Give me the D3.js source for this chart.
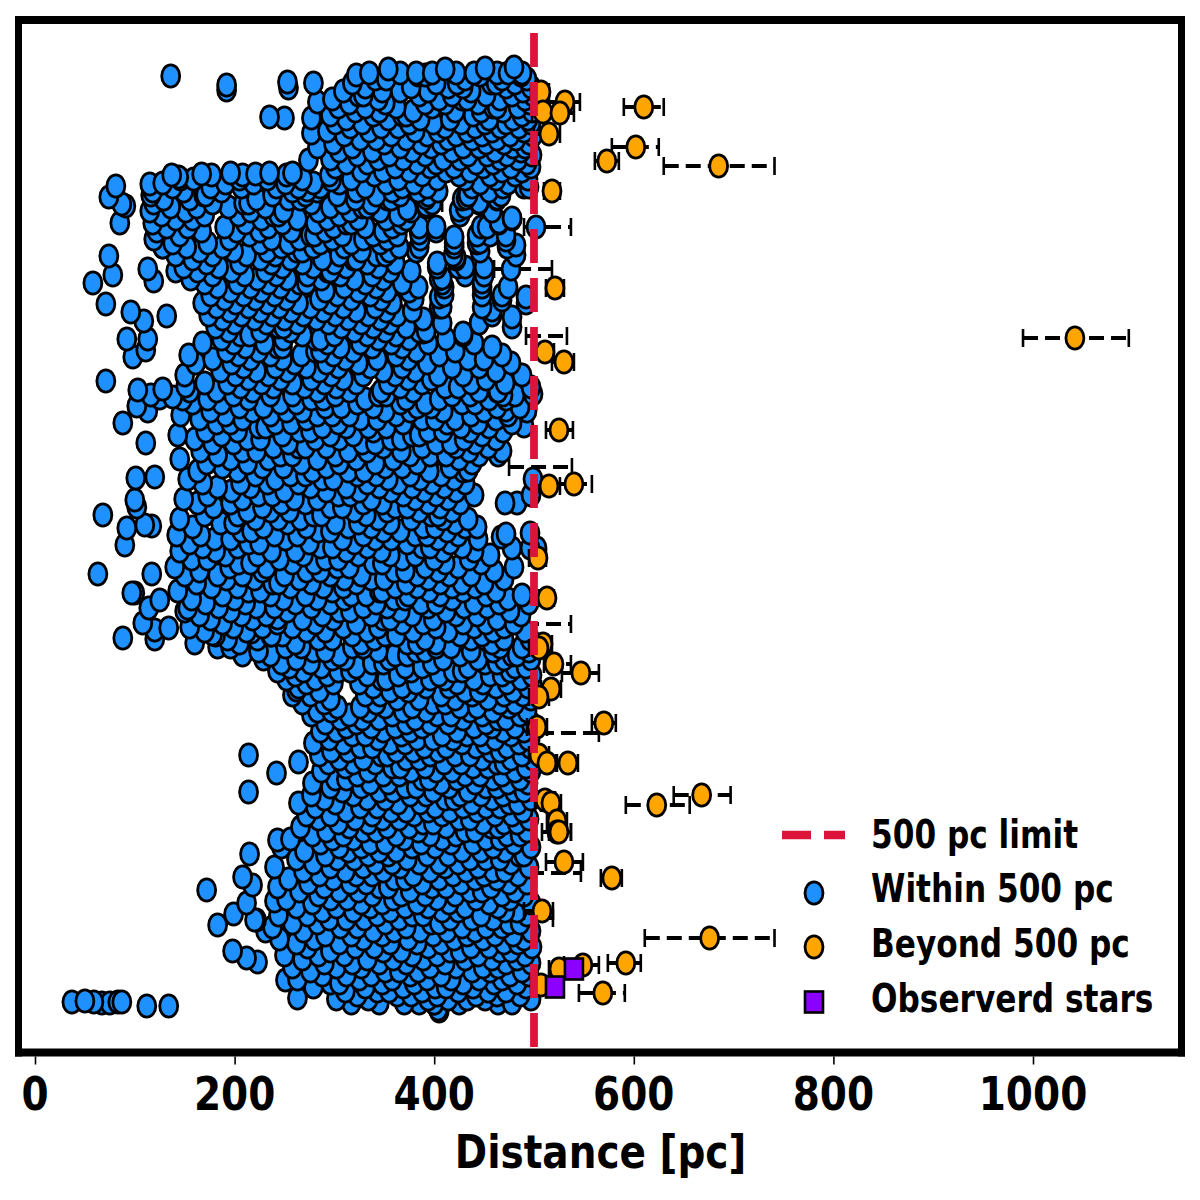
<!DOCTYPE html>
<html>
<head>
<meta charset="utf-8">
<script src="https://cdn.jsdelivr.net/npm/d3@7"></script>
<style>
  html, body { margin: 0; padding: 0; background: #fff; }
  text { font-family: "DejaVu Sans", sans-serif; font-weight: bold; fill: #000; }
</style>
</head>
<body>
<svg id="chart" width="1200" height="1200"></svg>
<script>
// stars inside the limit, body of the cloud: [rank, distances in pc]
const withinRows = [
  [928, [322, 384, 391, 446, 487]],
  [924, [341, 352, 431, 468, 493]],
  [920, [318, 402, 423, 457, 462, 481]],
  [916, [331, 377, 414, 429, 472, 497]],
  [912, [309, 348, 366, 394, 437, 489]],
  [908, [324, 329, 385, 418, 452, 478, 499]],
  [904, [298, 344, 405, 428, 433, 466, 491]],
  [900, [315, 351, 391, 411, 444, 496]],
  [896, [304, 331, 362, 398, 459, 463, 484]],
  [892, [321, 345, 379, 421, 447, 469, 498]],
  [888, [296, 339, 368, 372, 439, 488]],
  [884, [312, 354, 386, 416, 455, 479, 494]],
  [880, [301, 328, 375, 399, 427, 451, 472, 497]],
  [876, [316, 347, 364, 411, 441, 466, 485]],
  [872, [293, 335, 381, 404, 433, 458, 490]],
  [868, [310, 357, 393, 422, 448, 476, 499]],
  [864, [326, 342, 372, 414, 438, 463, 482]],
  [860, [299, 350, 387, 407, 452, 470, 495]],
  [856, [318, 366, 397, 429, 445, 479, 491]],
  [852, [305, 338, 378, 418, 461, 487]],
  [848, [323, 355, 391, 434, 453, 473, 498]],
  [844, [296, 344, 369, 409, 426, 466, 484]],
  [840, [312, 333, 383, 402, 442, 459, 493]],
  [836, [301, 361, 396, 420, 449, 477, 497]],
  [832, [327, 349, 375, 412, 436, 468, 488]],
  [828, [295, 340, 388, 425, 456, 481]],
  [824, [146, 159, 205, 233, 268, 317, 364, 403, 431, 462, 494]],
  [820, [128, 191, 219, 251, 279, 305, 352, 380, 446, 474]],
  [816, [138, 176, 207, 242, 264, 286, 331, 368, 393, 438, 469, 490]],
  [812, [118, 149, 187, 258, 283, 322, 358, 384, 404, 455]],
  [808, [116, 169, 171, 238, 271, 303, 342, 366, 394, 434, 467]],
  [804, [129, 155, 222, 254, 266, 321, 353, 357, 428, 463]],
  [800, [119, 178, 209, 214, 277, 309, 337, 398, 445]],
  [796, [136, 162, 194, 231, 296, 328, 333, 392, 431]],
  [792, [115, 151, 216, 249, 284, 316, 346, 377, 458]],
  [788, [127, 170, 204, 239, 244, 305, 364, 426]],
  [784, [141, 158, 227, 263, 293, 324, 352, 372, 478]],
  [780, [118, 211, 248, 281, 312, 317, 367, 465]],
  [776, [132, 153, 190, 234, 299, 331, 358, 385, 447]],
  [772, [122, 167, 202, 225, 257, 291, 349, 402]],
  [768, [145, 215, 276, 280, 308, 339, 363, 456, 472]],
  [764, [119, 195, 237, 265, 298, 329, 353, 386]],
  [760, [138, 173, 226, 254, 286, 317, 346, 420, 443]],
  [756, [128, 152, 188, 247, 279, 310, 365, 473]],
  [752, [165, 199, 233, 262, 268, 327, 355, 382, 446]],
  [748, [141, 178, 212, 241, 305, 342, 351, 419, 482]],
  [744, [158, 226, 256, 288, 319, 322, 422]],
  [740, [172, 205, 237, 268, 300, 333, 361]],
  [736, [149, 184, 248, 279, 312, 344, 403, 424]],
  [732, [163, 197, 231, 293, 296, 356, 377]],
  [728, [178, 210, 242, 273, 306, 338, 431, 450]],
  [724, [156, 223, 253, 287, 320, 349, 405]],
  [720, [170, 203, 234, 265, 272, 331, 368, 408]],
  [716, [183, 216, 246, 310, 342, 384, 448]],
  [712, [196, 227, 258, 291, 324, 353, 375]],
  [708, [176, 209, 240, 303, 336, 410, 468]],
  [704, [190, 221, 252, 285, 317, 347, 380]],
  [700, [168, 201, 233, 264, 296, 358, 492]],
  [696, [182, 214, 245, 276, 309, 341, 405, 448]],
  [692, [195, 226, 257, 289, 322, 352, 378]],
  [688, [174, 207, 238, 269, 301, 334, 363, 458]],
  [684, [188, 220, 250, 282, 314, 346, 389]],
  [680, [200, 232, 263, 294, 327, 356, 408, 445]],
  [676, [181, 244, 249, 307, 339, 372, 478]],
  [672, [194, 226, 256, 320, 351, 385, 392]],
  [668, [206, 215, 268, 300, 333, 362, 429]],
  [664, [187, 249, 281, 286, 344, 375, 412]],
  [660, [168, 199, 230, 293, 326, 357, 394, 440]],
  [656, [211, 243, 248, 306, 338, 368, 458]],
  [652, [192, 224, 281, 286, 319, 382, 421]],
  [648, [154, 204, 236, 267, 299, 362, 405, 468]],
  [644, [178, 216, 248, 311, 343, 374, 434, 450]],
  [640, [161, 197, 260, 292, 324, 393, 477]],
  [636, [209, 241, 272, 304, 336, 368, 418, 445]],
  [632, [186, 222, 253, 285, 349, 381, 462]],
  [628, [150, 201, 234, 297, 329, 361, 404, 429, 488]],
  [624, [214, 246, 277, 309, 374, 397, 452]],
  [620, [170, 193, 227, 258, 290, 322, 354, 388, 437, 471]],
  [616, [206, 239, 270, 302, 366, 411, 424, 497]],
  [612, [155, 182, 218, 283, 315, 347, 379, 445, 463]],
  [608, [199, 236, 258, 301, 344, 352, 418, 436, 481]],
  [604, [148, 173, 214, 277, 289, 331, 372, 405, 455, 472]],
  [600, [158, 187, 246, 262, 323, 366, 391, 428, 441]],
  [596, [205, 229, 291, 307, 339, 383, 397, 463, 486]],
  [592, [176, 218, 252, 268, 351, 376, 409, 450, 493]],
  [588, [146, 191, 236, 283, 298, 315, 362, 437, 474]],
  [584, [165, 208, 272, 326, 343, 388, 401, 421, 462]],
  [580, [182, 196, 241, 257, 304, 369, 413, 444, 478]],
  [576, [224, 231, 288, 312, 334, 352, 427, 455]],
  [572, [171, 203, 265, 276, 339, 394, 409, 436, 469]],
  [568, [143, 187, 248, 296, 319, 378, 385, 448]],
  [564, [160, 213, 226, 281, 305, 357, 367, 430, 462]],
  [560, [178, 199, 254, 328, 341, 402, 417, 441]],
  [556, [239, 264, 271, 292, 349, 388, 422, 454]],
  [552, [166, 208, 222, 314, 333, 367, 435, 468]],
  [548, [183, 246, 258, 301, 376, 396, 412, 445]],
  [544, [145, 196, 234, 283, 322, 359, 425]],
  [540, [172, 213, 267, 305, 341, 383, 438]],
  [536, [188, 228, 249, 292, 351, 368, 416]],
  [532, [163, 203, 278, 314, 330, 395, 429]],
  [528, [221, 256, 271, 323, 342, 376, 407]],
  [524, [153, 241, 288, 299, 354, 386, 420]],
  [520, [168, 206, 233, 264, 333, 364, 398, 431]],
  [516, [183, 216, 276, 312, 345, 378, 410]],
  [512, [197, 250, 292, 325, 357, 390, 422]],
  [508, [173, 224, 238, 304, 316, 369, 402, 440]],
  [504, [149, 208, 260, 283, 337, 381, 414]],
  [500, [163, 196, 247, 271, 329, 348, 394, 426]],
  [496, [179, 228, 296, 308, 361, 373, 406]],
  [492, [213, 236, 255, 320, 353, 385, 418]],
  [488, [170, 203, 279, 287, 332, 397, 404]],
  [484, [145, 221, 244, 266, 344, 377, 409, 434]],
  [480, [186, 199, 253, 301, 324, 356, 421]],
  [476, [158, 229, 272, 314, 337, 389, 401, 431]],
  [472, [207, 217, 284, 296, 349, 366, 413]],
  [468, [142, 166, 240, 263, 329, 381, 393, 424]],
  [464, [180, 196, 251, 308, 341, 357, 404, 444]],
  [460, [155, 214, 225, 275, 320, 373, 416]],
  [456, [168, 203, 286, 298, 333, 388, 396, 428]],
  [452, [145, 181, 237, 261, 312, 347, 409, 440]],
  [448, [191, 223, 269, 324, 356, 381, 456]],
  [444, [157, 173, 245, 291, 304, 368, 400, 435]],
  [440, [204, 216, 258, 280, 339, 348, 411, 447]],
  [436, [140, 195, 232, 303, 315, 391, 424, 480]],
  [432, [165, 228, 272, 286, 360, 371, 404, 460]],
  [428, [150, 183, 208, 250, 296, 327, 383, 415, 437]],
  [424, [192, 220, 265, 310, 337, 350, 394, 470]],
  [420, [162, 238, 244, 277, 322, 372, 406, 428, 450]],
  [416, [177, 203, 256, 289, 309, 361, 383, 418, 441]],
  [412, [143, 214, 226, 298, 345, 348, 395, 429, 462]],
  [408, [188, 236, 271, 317, 332, 374, 406, 452, 488]],
  [404, [157, 200, 249, 283, 310, 360, 371, 418, 474]],
  [400, [171, 211, 261, 296, 342, 387, 402, 440, 465, 495]],
  [396, [184, 222, 240, 277, 329, 353, 394, 430, 453]],
  [392, [150, 196, 253, 305, 316, 366, 412, 476]],
  [388, [165, 207, 232, 288, 337, 378, 422, 443, 487]],
  [384, [176, 218, 268, 299, 349, 356, 399, 463]],
  [380, [188, 243, 281, 322, 368, 389, 429, 452, 480]],
  [376, [155, 199, 228, 258, 309, 344, 402, 440, 470]],
  [372, [170, 212, 272, 291, 333, 379, 414, 459, 491]],
  [368, [181, 236, 248, 318, 351, 362, 426, 448]],
  [364, [193, 223, 284, 298, 340, 391, 437, 470, 496]],
  [360, [160, 205, 261, 327, 373, 383, 402, 458]],
  [356, [183, 196, 251, 267, 318, 329, 402, 417, 466, 488]],
  [352, [224, 279, 291, 344, 382, 391, 437, 459, 495]],
  [348, [208, 236, 305, 361, 373, 426, 478, 483]],
  [344, [229, 262, 298, 311, 355, 409, 444, 470, 497]],
  [340, [247, 276, 338, 349, 398, 451, 463]],
  [336, [255, 287, 322, 371, 388, 434, 481, 492]],
  [332, [243, 269, 304, 316, 377, 419, 428, 476]],
  [328, [261, 293, 333, 364, 405, 456, 468, 498]],
  [324, [252, 281, 347, 352, 396, 411, 440, 487]],
  [320, [272, 299, 325, 382, 423, 449, 473]],
  [316, [264, 339, 368, 392, 415, 462, 494]],
  [312, [285, 356, 374, 431, 445, 479]],
  [308, [258, 276, 331, 346, 407, 438, 470, 489]],
  [304, [296, 363, 385, 421, 454, 497]],
  [300, [268, 290, 342, 399, 411, 466, 481]],
  [296, [303, 326, 351, 378, 426, 443, 475]],
  [292, [283, 297, 334, 369, 392, 436, 459, 493]],
  [288, [277, 315, 358, 403, 417, 448, 486]],
  [284, [306, 328, 345, 381, 429, 464, 472]],
  [280, [291, 322, 372, 396, 414, 452, 497]],
  [276, [312, 337, 361, 388, 440, 458, 481]],
  [272, [286, 302, 349, 376, 423, 469, 490]],
  [268, [318, 331, 367, 408, 433, 446, 477]],
  [264, [295, 344, 383, 399, 419, 461, 494]],
  [260, [279, 309, 356, 371, 428, 451, 485]],
  [256, [326, 338, 390, 412, 442, 473, 496]],
  [252, [297, 314, 362, 379, 404, 457, 466]],
  [248, [285, 347, 353, 396, 421, 436, 488]],
  [244, [305, 329, 372, 385, 448, 477, 499]],
  [240, [294, 319, 341, 410, 427, 463, 470]],
  [236, [311, 358, 366, 391, 439, 454, 492]],
  [232, [287, 334, 377, 402, 418, 481, 497]],
  [228, [323, 349, 365, 431, 446, 468]],
  [224, [301, 312, 388, 395, 423, 459, 486]],
  [220, [278, 336, 354, 407, 441, 474, 494]],
  [216, [296, 327, 371, 382, 415, 452, 463]],
  [212, [308, 345, 359, 399, 434, 480, 490]],
  [208, [277, 319, 376, 392, 426, 447, 469]],
  [204, [290, 333, 351, 411, 420, 458, 497]],
  [200, [264, 301, 364, 386, 438, 475, 484]],
  [196, [281, 326, 343, 401, 429, 452, 466]],
  [192, [312, 357, 372, 394, 416, 443, 489]],
  [188, [272, 296, 338, 380, 408, 461, 478]],
  [184, [284, 321, 348, 365, 425, 436, 495]],
  [180, [304, 334, 389, 399, 449, 470, 483]],
  [176, [266, 315, 353, 375, 412, 457, 464]],
  [172, [292, 329, 342, 384, 431, 441, 493]],
  [168, [278, 309, 362, 396, 422, 473, 486]],
  [164, [256, 298, 319, 370, 408, 452, 466]],
  [160, [286, 336, 351, 387, 417, 439, 480]],
  [156, [247, 305, 327, 378, 401, 459, 497]],
  [152, [270, 314, 345, 362, 428, 447, 471]],
  [148, [291, 334, 354, 393, 414, 485, 490]],
  [144, [262, 303, 320, 373, 436, 452, 466]],
  [140, [279, 341, 358, 385, 405, 424, 477]],
  [136, [240, 296, 329, 366, 411, 444, 495]],
  [132, [269, 311, 349, 396, 432, 459, 471]],
  [128, [285, 322, 338, 379, 419, 450, 484]],
  [124, [254, 299, 360, 371, 405, 441, 463]],
  [120, [274, 316, 332, 388, 427, 475, 493]],
  [116, [243, 290, 345, 354, 398, 412, 457]],
  [112, [265, 305, 324, 376, 436, 448, 481]],
  [108, [284, 338, 367, 391, 421, 468, 490]],
  [104, [252, 296, 313, 359, 403, 442, 476]],
  [100, [278, 327, 348, 383, 415, 455, 497]],
  [96, [262, 302, 336, 371, 394, 431, 464]],
  [92, [288, 319, 356, 408, 424, 483, 471]],
  [88, [244, 273, 343, 378, 389, 447, 493]],
  [84, [295, 312, 330, 365, 416, 438, 459]],
  [80, [258, 283, 351, 397, 405, 475, 486]],
  [76, [238, 306, 323, 372, 428, 452, 468]],
  [72, [269, 339, 360, 386, 413, 441, 497]],
  [68, [291, 317, 348, 399, 433, 479, 461]],
  [64, [245, 280, 329, 374, 420, 449, 490]],
  [60, [262, 305, 356, 383, 407, 470, 484]],
  [56, [273, 321, 340, 394, 437, 455, 498]],
  [52, [296, 349, 367, 416, 426, 466, 477]],
  [48, [250, 284, 310, 378, 403, 444, 491]],
  [44, [268, 333, 359, 389, 431, 458, 483]],
  [40, [290, 318, 345, 372, 411, 472, 497]],
  [36, [258, 302, 327, 396, 422, 449, 464]],
  [32, [276, 351, 365, 384, 438, 456, 488]],
  [28, [288, 312, 337, 376, 407, 476, 495]],
  [24, [263, 325, 358, 393, 417, 445, 468]],
  [20, [296, 305, 348, 380, 429, 460, 483]],
  [16, [279, 331, 369, 401, 412, 439, 492]],
  [12, [311, 343, 355, 388, 424, 472, 454]],
  [8, [323, 363, 377, 403, 442, 463, 486]],
  [4, [302, 334, 394, 414, 433, 451, 497]],
  [0, [317, 345, 385, 400, 425, 464, 478]]
];

// stars read one by one along the rim of the cloud and in its gaps
const withinEdgeDist = [354, 411, 451, 480, 335, 366, 382, 398, 422, 440, 463, 474, 488, 136, 253, 279, 192, 254, 192, 283, 235, 250, 277, 277, 283, 274,
  137, 144, 167, 177, 196, 208, 221, 235, 252, 258, 273, 297, 81, 115, 74, 87, 91, 85, 74, 78, 58, 71, 96, 109, 132, 92, 113, 111, 98, 113, 119, 141, 128,
  495, 432, 425, 445, 463, 478, 465, 453, 443, 446, 472, 482, 402, 420, 420, 422, 431, 450, 448, 448, 474, 468, 458, 492, 478, 445, 429, 389, 373, 385, 385, 403, 408, 410, 405, 408, 392, 392, 502, 477,
  499, 71, 103, 116, 125, 138, 151, 128, 113, 102, 88, 111, 101, 120, 100, 102, 110, 90, 117, 68, 92, 117, 100, 97, 63, 108, 120, 120, 114, 125, 88, 134, 153, 178, 217, 243, 237, 262,
  472, 499, 497, 483, 469, 464, 490, 434, 464, 471, 472, 443, 467, 478, 496, 503, 496,
  214, 214, 242, 264, 172, 199, 183, 198, 212, 223, 215, 208, 218, 212, 222, 240, 220, 231, 243, 251, 263, 37, 50, 59, 67, 75, 83, 87, 112, 134, 400, 404, 405, 370];
const withinEdgeRank = [934, 934, 935, 936, 930, 930, 930, 930, 930, 930, 930, 930, 930, 927, 921, 920, 918, 915, 913, 901, 886, 885, 885, 870, 856, 843,
  828, 826, 829, 828, 830, 828, 829, 830, 828, 830, 813, 823, 817, 819, 806, 799, 797, 780, 747, 728, 720, 699, 691, 682, 687, 664, 664, 653, 646, 734, 722, 732, 756,
  816, 805, 793, 801, 805, 785, 781, 776, 768, 761, 763, 758, 776, 766, 756, 746, 736, 736, 721, 708, 716, 703, 693, 706, 686, 680, 670, 671, 794, 770, 756, 740, 725, 716, 706, 696, 805, 798, 776, 734,
  609, 622, 613, 608, 605, 606, 617, 614, 592, 597, 580, 560, 525, 526, 503, 496, 478, 458, 477, 488, 475, 429, 410, 410, 429, 380, 373, 364, 395, 403, 365, 375, 395, 369, 371, 385, 368, 313,
  593, 524, 508, 500, 608, 612, 577, 533, 548, 500, 469, 476, 466, 455, 470, 455, 455,
  248, 211, 230, 241, 113, 89, 78, 52, 45, 41, 149, 126, 118, 100, 83, 102, 83, 72, 163, 23, 5, 1, 2, 1, 0, 0, 1, 1, -3, -3, 0, -6, -8, 0];

// error bars of the stars inside the limit that can still be seen
const withinBarDist = [395, 502, 477, 512, 507, 511, 525, 515, 505];
const withinBarRank = [800, 776, 734, 667, 536, 379, 270, 130, 85];
const withinBarLow = [360, 490, 460, 492, 475, 490, 505, 495, 490];
const withinBarHigh = [408, 537, 518, 533, 538, 537, 565, 547, 519];

// stars beyond the limit
const beyondDist = [507, 531, 509, 526, 610, 515, 602, 573, 685, 518, 521, 1042, 511, 530, 525, 515, 540, 504, 513, 509, 505, 520, 547, 517, 505, 503, 570, 505, 513, 534, 511, 517, 523, 523, 525, 623, 668, 530, 578, 508, 676, 549, 525, 592, 569, 507];
const beyondRank = [911, 901, 891, 890, 896, 869, 856, 842, 837, 812, 715, 665, 651, 641, 573, 517, 519, 445, 405, 359, 355, 339, 330, 314, 306, 276, 280, 248, 240, 240, 203, 200, 182, 171, 171, 198, 208, 141, 125, 92, 65, 38, 34, 40, 10, 18];
const beyondLow = [497, 510, 498, 510, 590, 500, 578, 561, 630, 510, 512, 990, 500, 518, 512, 502, 516, 495, 505, 500, 495, 510, 528, 507, 495, 493, 558, 495, 503, 522, 501, 507, 513, 508, 515, 592, 640, 512, 567, 490, 611, 530, 515, 574, 545, 497];
const beyondHigh = [515, 546, 520, 540, 630, 526, 625, 585, 741, 526, 530, 1096, 520, 540, 539, 526, 558, 512, 520, 518, 515, 537, 565, 527, 515, 513, 582, 515, 523, 544, 521, 527, 533, 537, 537, 656, 697, 549, 588, 519, 741, 565, 535, 607, 591, 517];

// the two stars that were observed
const observedDist = [540, 521];
const observedRank = [34, 16];

const limit = 500;
const xTicks = [0, 200, 400, 600, 800, 1000];
const legendLabels = ["500 pc limit", "Within 500 pc", "Beyond 500 pc", "Observerd stars"];

const blue = "#1e90ff", orange = "#ffa500", purple = "#8b00ff", red = "#dc143c";
const rx = 9, ry = 11.1, edge = 2.8;

const svg = d3.select("#chart");
const x = d3.scaleLinear().domain([0, 1000]).range([35, 1033]);
const y = d3.scaleLinear().domain([0, 928]).range([1003, 75]);

const left = 18.5, right = 1181.5, top_ = 20, bottom = 1052.5;

const within = [];
for (const row of withinRows) {
  for (const d of row[1]) within.push({dist: d, rank: row[0]});
}
withinEdgeDist.forEach((d, i) => within.push({dist: d, rank: withinEdgeRank[i]}));
// lower ranks first, so that higher stars lie on top
within.sort((a, b) => a.rank - b.rank);

const zip = (dist, rank, low, high) => dist.map((d, i) => ({dist: d, rank: rank[i], low: low ? low[i] : 0, high: high ? high[i] : 0}));
const withinBars = zip(withinBarDist, withinBarRank, withinBarLow, withinBarHigh);
const beyond = zip(beyondDist, beyondRank, beyondLow, beyondHigh);
const observed = zip(observedDist, observedRank);

const drawBars = (data) => {
  const g = svg.append("g").attr("stroke", "#000").attr("fill", "none");
  g.selectAll(".bar").data(data).enter().append("line")
    .attr("x1", d => x(d.low)).attr("x2", d => x(d.high))
    .attr("y1", d => y(d.rank)).attr("y2", d => y(d.rank))
    .attr("stroke-width", 4).attr("stroke-dasharray", "15 7");
  for (const side of ["low", "high"]) {
    g.selectAll(".cap-" + side).data(data).enter().append("line")
      .attr("x1", d => x(d[side])).attr("x2", d => x(d[side]))
      .attr("y1", d => y(d.rank) - 9).attr("y2", d => y(d.rank) + 9)
      .attr("stroke-width", 2.6);
  }
};

const drawStars = (data, color) => {
  svg.append("g").selectAll("ellipse").data(data).enter().append("ellipse")
    .attr("cx", d => x(d.dist)).attr("cy", d => y(d.rank))
    .attr("rx", rx).attr("ry", ry)
    .attr("fill", color).attr("stroke", "#000").attr("stroke-width", edge);
};

drawBars(withinBars);
drawStars(within, blue);
drawBars(beyond);
drawStars(beyond, orange);

svg.append("g").selectAll("rect").data(observed).enter().append("rect")
  .attr("x", d => x(d.dist) - 9).attr("y", d => y(d.rank) - 10.5)
  .attr("width", 18).attr("height", 21)
  .attr("fill", purple).attr("stroke", "#000").attr("stroke-width", 2.6);

// limit line
svg.append("line")
  .attr("x1", x(limit)).attr("x2", x(limit))
  .attr("y1", 33).attr("y2", bottom - 2)
  .attr("stroke", red).attr("stroke-width", 7.8).attr("stroke-dasharray", "34 15");

// frame
svg.append("rect").attr("x", left - 3.5).attr("y", top_ - 4).attr("width", 7).attr("height", bottom - top_ + 8);
svg.append("rect").attr("x", right - 3.5).attr("y", top_ - 4).attr("width", 7).attr("height", bottom - top_ + 8);
svg.append("rect").attr("x", left - 3.5).attr("y", top_ - 4).attr("width", right - left + 7).attr("height", 8);
svg.append("rect").attr("x", left - 3.5).attr("y", bottom - 4).attr("width", right - left + 7).attr("height", 8);

// x axis, labels are placed by hand because of the stretch
const axis = svg.append("g").attr("transform", `translate(0,${bottom + 4})`)
  .call(d3.axisBottom(x).tickValues(xTicks).tickSize(8).tickFormat(""));
axis.select(".domain").remove();
axis.selectAll("line").attr("stroke-width", 1.6);

const stretchedText = (str, px, py, size, anchor, stretch) => svg.append("text")
  .attr("transform", `translate(${px},${py}) scale(1,${stretch})`)
  .attr("text-anchor", anchor)
  .attr("font-size", size)
  .text(str);

xTicks.forEach(t => stretchedText(t, x(t), 1110, 39, "middle", 1.17));
stretchedText("Distance [pc]", 600.5, 1168, 39, "middle", 1.17);

// legend
svg.append("line").attr("x1", 782).attr("x2", 845).attr("y1", 835).attr("y2", 835)
  .attr("stroke", red).attr("stroke-width", 8.5).attr("stroke-dasharray", "29 13");
const legendBase = [848, 902, 957, 1012];
legendLabels.forEach((s, i) => stretchedText(s, 871, legendBase[i], 31.2, "start", 1.25));
svg.append("ellipse").attr("cx", 814).attr("cy", 893).attr("rx", rx).attr("ry", ry)
  .attr("fill", blue).attr("stroke", "#000").attr("stroke-width", edge);
svg.append("ellipse").attr("cx", 814).attr("cy", 947).attr("rx", rx).attr("ry", ry)
  .attr("fill", orange).attr("stroke", "#000").attr("stroke-width", edge);
svg.append("rect").attr("x", 805).attr("y", 991.5).attr("width", 18).attr("height", 21)
  .attr("fill", purple).attr("stroke", "#000").attr("stroke-width", 2.6);
</script>
</body>
</html>
